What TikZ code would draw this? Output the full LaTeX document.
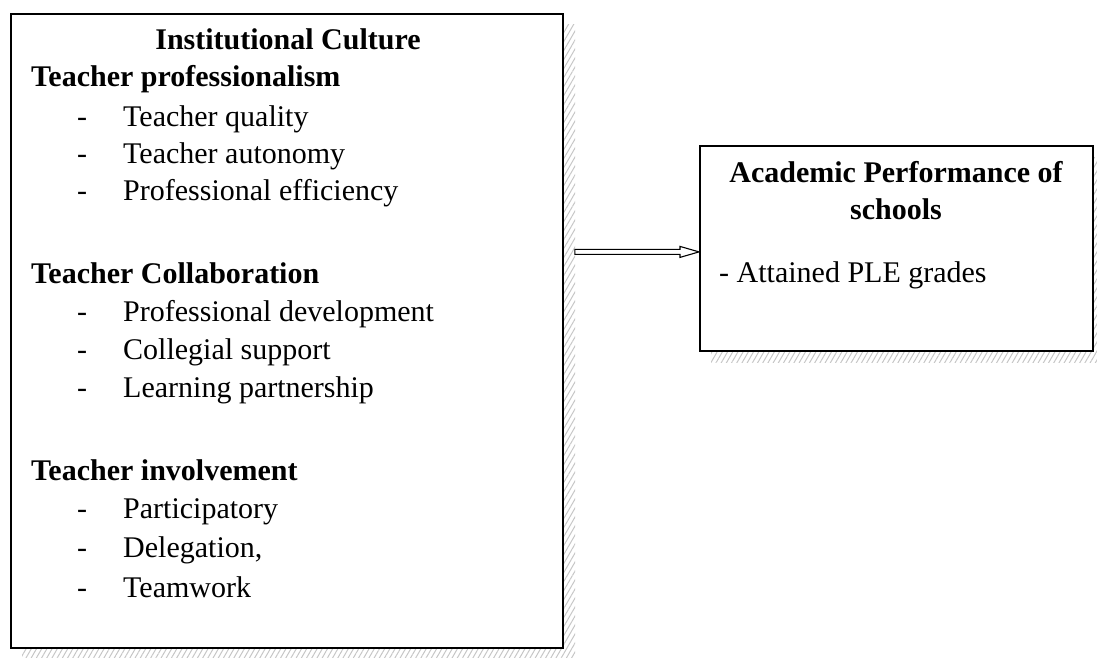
\documentclass[tikz,border=0pt]{standalone}
\usepackage{fontspec}
\setmainfont{Liberation Serif}
\usetikzlibrary{patterns.meta,calc}
\begin{document}
\begin{tikzpicture}[x=1pt,y=1pt,
  frame/.style={draw=black, line width=1.8pt, fill=white, inner sep=0pt, anchor=north west},
  shadowfill/.style={pattern={Lines[angle=60, distance=4.5pt, line width=1pt]}, pattern color=gray!45},
  txt/.style={anchor=base west, inner sep=0pt, font=\fontsize{30}{36}\selectfont},
  head/.style={txt, font=\fontsize{30}{36}\selectfont\bfseries},
  hyph/.style={txt},
]
\useasboundingbox (0,0) rectangle (1097,-658);

% drop shadows
\fill[shadowfill] (22,-25) rectangle (575,-660);
\fill[shadowfill] (711,-157) rectangle (1104,-362);

% boxes
\node[frame, minimum width=552pt, minimum height=634pt] (culture) at (10,-13) {};
\node[frame, minimum width=393pt, minimum height=205pt] (perf) at (699,-145) {};

% left box contents
\node[head, anchor=base] (title) at (288,-50) {Institutional Culture};

\node[head] (g1) at (31,-87) {Teacher professionalism};
\node[hyph] (d11) at (77,-127) {-};
\node[txt] (i11) at (123,-127) {Teacher quality};
\node[hyph] (d12) at (77,-163) {-};
\node[txt] (i12) at (123,-163) {Teacher autonomy};
\node[hyph] (d13) at (77,-200) {-};
\node[txt] (i13) at (123,-200) {Professional efficiency};

\node[head] (g2) at (31,-283) {Teacher Collaboration};
\node[hyph] (d21) at (77,-321) {-};
\node[txt] (i21) at (123,-321) {Professional development};
\node[hyph] (d22) at (77,-359) {-};
\node[txt] (i22) at (123,-359) {Collegial support};
\node[hyph] (d23) at (77,-397) {-};
\node[txt] (i23) at (123,-397) {Learning partnership};

\node[head] (g3) at (31,-480) {Teacher involvement};
\node[hyph] (d31) at (77,-518) {-};
\node[txt] (i31) at (123,-518) {Participatory};
\node[hyph] (d32) at (77,-557) {-};
\node[txt] (i32) at (123,-557) {Delegation,};
\node[hyph] (d33) at (77,-597) {-};
\node[txt] (i33) at (123,-597) {Teamwork};

% right box contents
\node[head, anchor=base] (p1) at (896,-182) {Academic Performance of};
\node[head, anchor=base] (p2) at (896,-219) {schools};
\node[txt] (p3) at (719,-282) {- Attained PLE grades};

% hollow block arrow between the boxes
\coordinate (a0) at ($(culture.east |- perf.west)+(11,-3.5)$);
\coordinate (a1) at ($(perf.west)+(0,-3.5)$);
\draw[line width=1.1pt, line join=miter]
  ($(a0)+(0,2.5)$) -- ($(a1)+(-19,2.5)$) -- ($(a1)+(-19,5.5)$) -- (a1)
  -- ($(a1)+(-19,-5.5)$) -- ($(a1)+(-19,-2.5)$) -- ($(a0)+(0,-2.5)$) -- cycle;
\end{tikzpicture}
\end{document}
